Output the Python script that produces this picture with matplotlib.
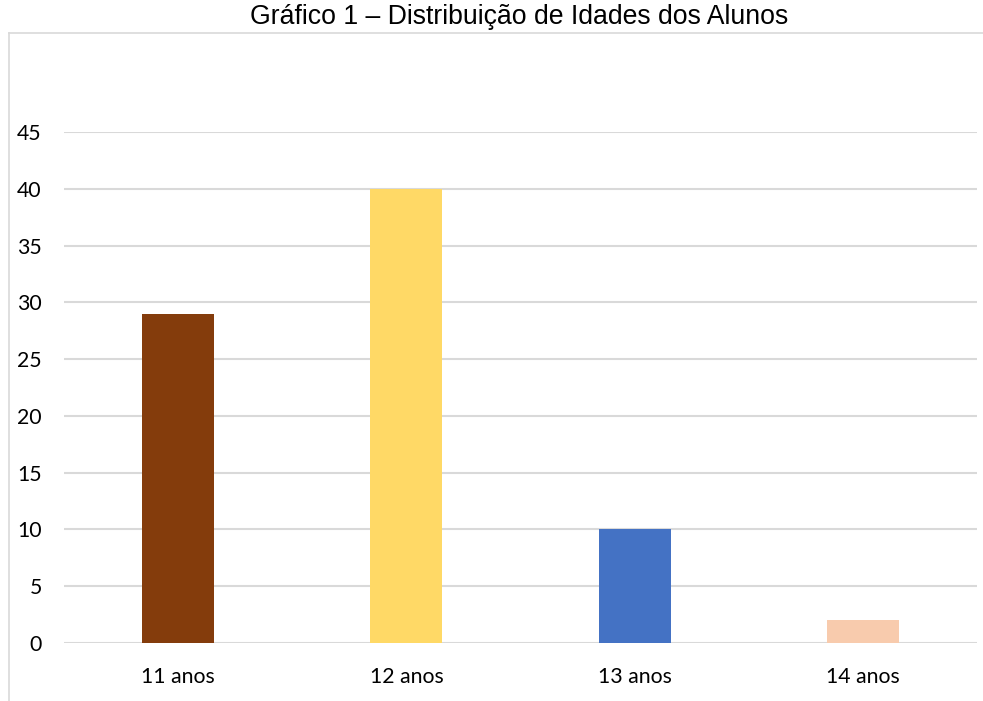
import matplotlib
matplotlib.use("Agg")
import matplotlib.pyplot as plt
from matplotlib.lines import Line2D

categories = ["11 anos", "12 anos", "13 anos", "14 anos"]
values = [29, 40, 10, 2]
colors = ["#843C0C", "#FFD966", "#4472C4", "#F8CBAD"]
yticks = [0, 5, 10, 15, 20, 25, 30, 35, 40, 45]
title = "Gráfico 1 – Distribuição de Idades dos Alunos"

W, H = 983, 701
fig = plt.figure(figsize=(W / 100, H / 100), dpi=100)

# chart border (top and left visible)
fig.add_artist(Line2D([9 / W, 1], [1 - 33 / H, 1 - 33 / H], color="#D9D9D9", lw=1.2))
fig.add_artist(Line2D([9 / W, 9 / W], [0, 1 - 33 / H], color="#D9D9D9", lw=1.2))

x0, x1 = 64, 977
ytop, ybot = 132, 643
ax = fig.add_axes([x0 / W, 1 - ybot / H, (x1 - x0) / W, (ybot - ytop) / H])
ax.set_facecolor("none")
pos = list(range(len(categories)))
ax.bar(pos, values, width=0.315, color=colors, zorder=3)
ax.set_xlim(-0.5, len(categories) - 0.5)
ax.set_ylim(0, 45)
ax.set_yticks(yticks)
ax.set_xticks(pos)
ax.set_xticklabels(categories, fontsize=15.3, family=["Lato", "DejaVu Sans"], color="#000000")
ax.set_yticklabels([str(v) for v in yticks], fontsize=15.3, family=["Lato", "DejaVu Sans"], color="#000000")
ax.grid(axis="y", color="#D9D9D9", lw=1.5, zorder=0)
ax.set_axisbelow(True)
for s in ax.spines.values():
    s.set_visible(False)
ax.tick_params(axis="both", length=0)
ax.tick_params(axis="y", pad=16)
ax.tick_params(axis="x", pad=17)
ax.set_clip_on(False)

fig.text(519 / W, 1 - 17 / H, title, ha="center", va="center", fontsize=19.2,
         family=["Liberation Sans", "DejaVu Sans"], color="#000000")

fig.savefig("out.png", dpi=100, facecolor="white")
